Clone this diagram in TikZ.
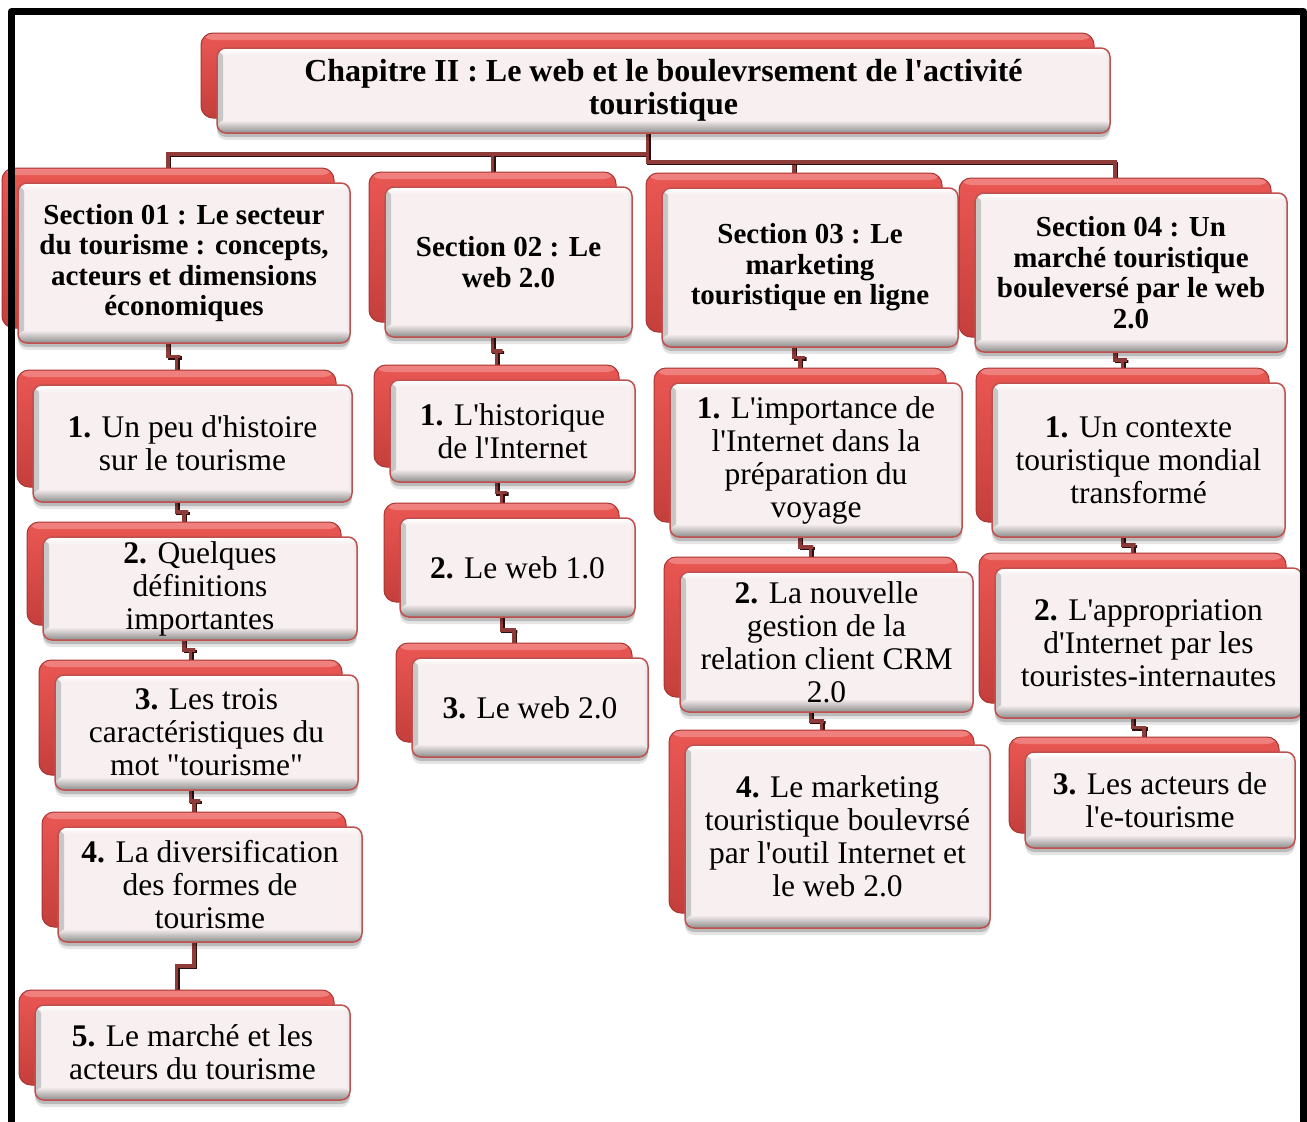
\documentclass[tikz,border=0pt]{standalone}
\usepackage{fontspec}
\setmainfont{Liberation Serif}[Ligatures=TeXOff]
\usetikzlibrary{calc}
\pgfdeclarelayer{paper}
\pgfdeclarelayer{bg}
\pgfsetlayers{paper,bg,main}

\definecolor{platetop}{HTML}{EA5753}
\definecolor{platebot}{HTML}{C43F3C}
\definecolor{plateedge}{HTML}{A83532}
\definecolor{facefill}{HTML}{F8F0F0}
\definecolor{faceedge}{HTML}{C0504D}
\definecolor{linkred}{HTML}{8E3B3A}
\definecolor{linkdark}{HTML}{2B0F0F}

\tikzset{
  plate/.style={rounded corners=12pt, draw=plateedge, line width=1pt,
    top color=platetop, bottom color=platebot, inner sep=0pt,
    path picture={
      \shade[top color=platetop!75!white, bottom color=platetop]
        (path picture bounding box.north west) rectangle
        ([yshift=-7pt]path picture bounding box.north east);
    }},
  face/.style={rounded corners=9pt, draw=faceedge, line width=1.5pt,
    fill=facefill, align=center, inner sep=0pt, text=black,
    preaction={fill=black, opacity=0.10,
      transform canvas={yshift=-7pt}},
    preaction={fill=black, opacity=0.18,
      transform canvas={yshift=-4pt}},
    path picture={
      \shade[left color=black!22, right color=facefill]
        (path picture bounding box.south west) rectangle
        ([xshift=6pt]path picture bounding box.north west);
      \shade[right color=black!10, left color=facefill]
        (path picture bounding box.south east) rectangle
        ([xshift=-5pt]path picture bounding box.north east);
      \shade[top color=white, bottom color=facefill]
        (path picture bounding box.north west) rectangle
        ([yshift=-7pt]path picture bounding box.north east);
      \shade[top color=facefill, bottom color=black!45]
        ([yshift=13pt]path picture bounding box.south west) rectangle
        (path picture bounding box.south east);
    }},
  headtext/.style={font=\rmfamily\bfseries\fontsize{32}{33}\selectfont},
  sectext/.style={font=\rmfamily\bfseries\fontsize{29}{30.5}\selectfont},
  itemtext/.style={font=\rmfamily\fontsize{31.5}{33}\selectfont},
  link/.style={draw=linkred, line width=3.5pt,
    preaction={draw=linkdark, line width=3.5pt,
      transform canvas={xshift=1.5pt, yshift=-1.5pt}}},
  frame/.style={draw=black, line width=7pt, line join=round}
}

% #1 name, #2..#5 front face x1,y1,x2,y2, #6 text style, #7 text
\newcommand\pairbox[7]{%
  \node[plate, minimum width={(#4-#2)*1pt}, minimum height={(#5-#3)*1pt}]
    (#1b) at ({(#2+#4)/2-16},{(#3+#5)/2-15}) {};
  \node[face, #6, minimum width={(#4-#2)*1pt}, minimum height={(#5-#3)*1pt}]
    (#1) at ({(#2+#4)/2},{(#3+#5)/2}) {#7};
}
% elbow connector between a parent pair and a child pair
\newcommand\elbow[2]{%
  \draw[link] (#1b.south) |- ($(#1.south)!0.5!(#2b.north)$) -| (#2b.north);
}

\begin{document}
\begin{tikzpicture}[x=1pt, y=-1pt]
\useasboundingbox (0,0) rectangle (1307,1122);
\begin{pgfonlayer}{paper}
  \fill[white] (0,0) rectangle (1307,1122);
\end{pgfonlayer}
\clip (0,0) rectangle (1307,1122);

% title
\pairbox{t}{217}{48}{1110}{133}{headtext}{Chapitre II : Le web et le boulevrsement de l'activité\\touristique}

% sections
\pairbox{s1}{18}{183}{350}{343}{sectext}{Section 01 : Le secteur\\du tourisme : concepts,\\acteurs et dimensions\\économiques}
\pairbox{s2}{385}{187}{632}{337}{sectext}{Section 02 : Le\\web 2.0}
\pairbox{s3}{662}{188}{958}{347}{sectext}{Section 03 : Le\\marketing\\touristique en ligne}
\pairbox{s4}{975}{193}{1287}{352}{sectext}{Section 04 : Un\\marché touristique\\bouleversé par le web\\2.0}

% section 01 items
\pairbox{a1}{33}{385}{352}{502}{itemtext}{\textbf{1.} Un peu d'histoire\\sur le tourisme}
\pairbox{a2}{43}{537}{357}{640}{itemtext}{\textbf{2.} Quelques\\définitions\\importantes}
\pairbox{a3}{55}{675}{358}{790}{itemtext}{\textbf{3.} Les trois\\caractéristiques du\\mot "tourisme"}
\pairbox{a4}{58}{827}{362}{942}{itemtext}{\textbf{4.} La diversification\\des formes de\\tourisme}
\pairbox{a5}{35}{1005}{350}{1100}{itemtext}{\textbf{5.} Le marché et les\\acteurs du tourisme}

% section 02 items
\pairbox{b1}{390}{380}{635}{482}{itemtext}{\textbf{1.} L'historique\\de l'Internet}
\pairbox{b2}{400}{518}{635}{617}{itemtext}{\textbf{2.} Le web 1.0}
\pairbox{b3}{412}{658}{648}{757}{itemtext}{\textbf{3.} Le web 2.0}

% section 03 items
\pairbox{c1}{670}{383}{962}{537}{itemtext}{\textbf{1.} L'importance de\\l'Internet dans la\\préparation du\\voyage}
\pairbox{c2}{680}{572}{973}{712}{itemtext}{\textbf{2.} La nouvelle\\gestion de la\\relation client CRM\\2.0}
\pairbox{c3}{685}{745}{990}{928}{itemtext}{\textbf{4.} Le marketing\\touristique boulevrsé\\par l'outil Internet et\\le web 2.0}

% section 04 items
\pairbox{d1}{992}{383}{1285}{537}{itemtext}{\textbf{1.} Un contexte\\touristique mondial\\transformé}
\pairbox{d2}{995}{568}{1302}{718}{itemtext}{\textbf{2.} L'appropriation\\d'Internet par les\\touristes-internautes}
\pairbox{d3}{1025}{752}{1295}{848}{itemtext}{\textbf{3.} Les acteurs de\\l'e-tourisme}

% connectors, behind the boxes
\coordinate (busL) at (0,154);
\coordinate (busR) at (0,162);
\begin{pgfonlayer}{bg}
  \draw[link] (tb.south) -- (tb.south |- busL) -| (s1b.north);
  \draw[link] (tb.south) -- (tb.south |- busL) -| (s2b.north);
  \draw[link] (tb.south) -- (tb.south |- busR) -| (s3b.north);
  \draw[link] (tb.south) -- (tb.south |- busR) -| (s4b.north);
  \elbow{s1}{a1}\elbow{a1}{a2}\elbow{a2}{a3}\elbow{a3}{a4}\elbow{a4}{a5}
  \elbow{s2}{b1}\elbow{b1}{b2}\elbow{b2}{b3}
  \elbow{s3}{c1}\elbow{c1}{c2}\elbow{c2}{c3}
  \elbow{s4}{d1}\elbow{d1}{d2}\elbow{d2}{d3}
\end{pgfonlayer}

% outer frame
\draw[frame] (11.5,1135) -- (11.5,11.5) -- (1303.5,11.5) -- (1303.5,1135);
\end{tikzpicture}
\end{document}
